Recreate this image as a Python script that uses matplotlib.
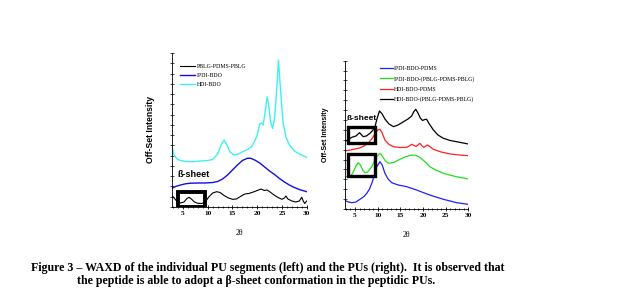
import numpy as np
import matplotlib.pyplot as plt
from matplotlib.patches import Rectangle
from matplotlib.ticker import MultipleLocator

# 左图: 各链段
l_black_x = [2.7, 3.2, 3.8, 4.5, 5.2, 5.8, 6.2, 6.7, 7.3, 8.0, 8.8, 9.5, 10.2, 11.0, 11.8, 12.5, 13.3, 14.2,
             15.0, 15.8, 16.6, 17.5, 18.3, 19.2, 20.0, 20.8, 21.4, 22.0, 22.6, 23.4, 24.2, 25.0, 25.5, 25.8,
             26.2, 27.0, 27.8, 28.5, 29.0, 29.3, 29.6, 30.0]
l_black_y = [12, 9, 5.5, 4, 5, 8.5, 9.7, 8, 5, 3.7, 3.5, 5, 10, 14, 15.3, 14.5, 11.5, 9,
             7.7, 8, 10.5, 13, 13.5, 15, 16.5, 18, 16.5, 17, 15, 12, 9.5, 7.7, 9, 11,
             8, 6, 5, 6, 9.7, 6, 3.5, 6]
l_blue_x = [2.8, 3.5, 4.5, 5.5, 6.5, 8, 9.5, 11, 12, 13, 14, 15, 16, 17, 18, 18.7, 19.5, 20.5, 21.5,
            22.5, 23.5, 24.5, 25.5, 26.5, 27.5, 28.5, 30]
l_blue_y = [18.7, 20.5, 22, 23.2, 23.8, 24, 24, 24.5, 25.5, 28, 32, 37, 42, 46.5, 48.7, 48.7, 47, 44, 40,
            36, 32.5, 28.5, 25, 22, 19.5, 17.5, 15.3]
l_cyan_x = [2.8, 3.2, 3.8, 4.5, 5.5, 7, 8.5, 10, 11, 12, 12.7, 13.3, 13.9, 14.5, 15.3, 16, 17, 18,
            18.8, 19.5, 20, 20.5, 20.9, 21.2, 21.6, 22, 22.3, 22.7, 23.1, 23.5, 23.9, 24.3, 24.7,
            25.2, 25.8, 26.5, 27.5, 28.5, 30]
l_cyan_y = [60, 52, 48, 46.5, 45.5, 45.3, 46, 46.5, 47.5, 53, 62, 67, 62, 55, 52, 52.5, 55, 57.5,
            60, 66, 72, 83, 84, 82, 95, 110, 103, 85, 78.5, 88, 115, 147, 118,
            85, 70, 62, 56, 53, 49.7]

# 右图: 聚氨酯
r_blue_x = [2.8, 3.5, 4.3, 5.2, 6.1, 7, 7.6, 8.2, 8.7, 9.3, 9.8, 10.5, 11.0, 11.6, 12.3, 13.1, 14.5,
            16.4, 18.6, 20, 21.5, 23, 24.5, 26, 27.4, 29, 30]
r_blue_y = [8.5, 7, 6.3, 7, 9.7, 12.5, 15.7, 20, 25.7, 34, 42.3, 47.3, 44, 35.7, 30, 26.3, 24,
            22.3, 19, 16.5, 14, 11.8, 9.7, 8, 6.3, 5.3, 4.7]
r_green_x = [2.8, 3.5, 4.1, 4.6, 5.2, 5.7, 6.2, 6.7, 7.2, 7.8, 8.3, 8.7, 9.4, 9.9, 10.5, 11.0, 11.7,
             12.4, 13.5, 14.6, 16, 17.5, 18.5, 19.3, 20.5, 21.5, 23, 24.5, 26, 27.4, 30]
r_green_y = [32.3, 32.5, 33, 37, 43, 46.3, 44, 39, 36.3, 37, 40, 42.3, 49, 53, 55.7, 53, 48,
             45.7, 46.5, 49, 52, 54, 53.5, 51.7, 47, 42.3, 38.5, 35.7, 33.8, 32.3, 30]
r_red_x = [2.8, 4, 5, 6, 7, 8, 8.7, 9.4, 10, 10.5, 11, 11.6, 12.5, 13.5, 15, 16.4, 17, 17.5, 18,
           18.5, 19.3, 19.8, 20.2, 21, 21.5, 22.3, 24, 26, 28, 30]
r_red_y = [58, 59, 60, 61, 63, 66.5, 70, 75, 79, 79.7, 76, 69, 64.5, 62.3, 61.5, 61.7, 63, 64.7, 63.5,
           62.5, 65.7, 63, 61.7, 64, 62.5, 59.7, 57, 55, 54, 53.3]
r_black_x = [3.0, 4.3, 5.2, 6.0, 6.8, 7.5, 8.3, 8.9, 9.4, 9.9, 10.4, 11, 11.6, 12.5, 13.5, 14.5, 15.7,
             16.7, 17.5, 18, 18.4, 18.9, 19.4, 19.9, 20.4, 20.8, 21.4, 22.3, 23.3, 24.5, 26, 27.4, 30]
r_black_y = [68, 71.7, 73, 76.3, 72.3, 73, 75.7, 78.5, 82.3, 91, 98, 95, 90, 85, 82.3, 84, 87.3,
             90, 93, 97.5, 99.7, 96, 91, 88.5, 89.5, 89.7, 85, 79, 74, 70.7, 68.5, 67.3, 65]

xticks = [5, 10, 15, 20, 25, 30]

fig = plt.figure(figsize=(6.29, 3.05), dpi=100)
serif = 'Liberation Serif'
sans = 'Liberation Sans'


def style(ax, ymax, label_size):
    ax.spines['top'].set_visible(False)
    ax.spines['right'].set_visible(False)
    for s in ['left', 'bottom']:
        ax.spines[s].set_linewidth(0.6)
    ax.set_ylim(0, ymax)
    ax.set_xticks(xticks)
    ax.xaxis.set_minor_locator(MultipleLocator(1))
    ax.yaxis.set_major_locator(MultipleLocator(ymax / 15.0))
    ax.set_yticklabels([])
    ax.tick_params(axis='x', which='major', direction='inout', length=3, width=0.6, pad=1.5)
    ax.tick_params(axis='x', which='minor', direction='inout', length=1.5, width=0.5)
    ax.tick_params(axis='y', which='major', direction='inout', length=2.5, width=0.5)
    for t in ax.get_xticklabels():
        t.set_fontfamily(serif)
        t.set_fontweight('bold')
        t.set_fontsize(5.3)
    ax.set_xlabel('2θ', fontfamily=serif, fontsize=5.5, labelpad=9)
    ax.set_ylabel('Off-Set Intensity', fontfamily=sans, fontweight='bold', fontsize=label_size, labelpad=7)


# 左图
ax1 = fig.add_axes([0.273, 0.3213, 0.2146, 0.505])
ax1.plot(l_black_x, l_black_y, color='black', lw=0.8, label='PBLG-PDMS-PBLG')
ax1.plot(l_blue_x, l_blue_y, color='#1010e0', lw=1.0, label='IPDI-BDO')
ax1.plot(l_cyan_x, l_cyan_y, color='#40f0f0', lw=1.0, label='HDI-BDO')
ax1.set_xlim(2.72, 30)
style(ax1, 154, 6.2)
ax1.add_patch(Rectangle((4.0, 0.5), 5.4, 14.8, fill=False, edgecolor='black', lw=2.8, zorder=5))
ax1.text(3.8, 32, 'ß-sheet', fontfamily=sans, fontweight='bold', fontsize=6.5, va='center')
ax1.legend(loc='upper left', bbox_to_anchor=(0.04, 0.945), frameon=False, borderpad=0,
           handlelength=2.6, handletextpad=0.2, labelspacing=0.6,
           prop={'family': serif, 'size': 4.2})

# 右图
ax2 = fig.add_axes([0.5485, 0.3148, 0.196, 0.4862])
ax2.plot(r_blue_x, r_blue_y, color='#2020ff', lw=0.9, label='IPDI-BDO-PDMS')
ax2.plot(r_green_x, r_green_y, color='#20e020', lw=0.9, label='IPDI-BDO-(PBLG-PDMS-PBLG)')
ax2.plot(r_red_x, r_red_y, color='#ff2020', lw=0.9, label='HDI-BDO-PDMS')
ax2.plot(r_black_x, r_black_y, color='black', lw=0.9, label='HDI-BDO-(PBLG-PDMS-PBLG)')
ax2.set_xlim(2.79, 30)
style(ax2, 148.3, 5.0)
ax2.add_patch(Rectangle((3.5, 66.3), 5.9, 15.4, fill=False, edgecolor='black', lw=2.4, zorder=5))
ax2.add_patch(Rectangle((3.5, 33), 5.9, 21.7, fill=False, edgecolor='black', lw=2.4, zorder=5))
ax2.text(3.0, 90, 'ß-sheet', fontfamily=sans, fontweight='bold', fontsize=6, va='center')
ax2.legend(loc='upper left', bbox_to_anchor=(0.26, 0.985), frameon=False, borderpad=0,
           handlelength=2.2, handletextpad=0.2, labelspacing=0.85,
           prop={'family': serif, 'size': 4.2})

# 图注
fig.text(268 / 629, 1 - 267.7 / 305, 'Figure 3 – WAXD of the individual PU segments (left) and the PUs (right).  It is observed that',
         ha='center', va='center', fontfamily=serif, fontweight='bold', fontsize=8.6)
fig.text(256 / 629, 1 - 280.7 / 305, 'the peptide is able to adopt a β-sheet conformation in the peptidic PUs.',
         ha='center', va='center', fontfamily=serif, fontweight='bold', fontsize=8.6)

fig.savefig('out.png', dpi=100)
